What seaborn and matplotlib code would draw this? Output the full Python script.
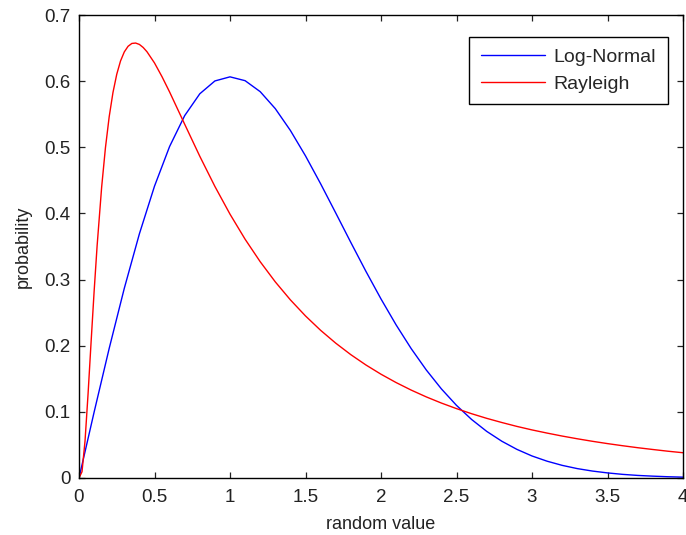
import numpy as np
import pandas as pd
import matplotlib
matplotlib.use("Agg")
import matplotlib.pyplot as plt
import seaborn as sns

# Sampled curve values
x_blue = [0.0, 0.1, 0.2, 0.3, 0.4, 0.5, 0.6, 0.7, 0.8, 0.9, 1.0,
          1.1, 1.2, 1.3, 1.4, 1.5, 1.6, 1.7, 1.8, 1.9, 2.0,
          2.1, 2.2, 2.3, 2.4, 2.5, 2.6, 2.7, 2.8, 2.9, 3.0,
          3.1, 3.2, 3.3, 3.4, 3.5, 3.6, 3.7, 3.8, 3.9, 4.0]
y_lognormal = [0.0, 0.0995, 0.1960, 0.2868, 0.3692, 0.4412, 0.5012, 0.5479, 0.5809, 0.6003, 0.6065,
               0.6007, 0.5841, 0.5584, 0.5254, 0.4870, 0.4449, 0.4008, 0.3562, 0.3125, 0.2707,
               0.2315, 0.1956, 0.1633, 0.1347, 0.1098, 0.0885, 0.0705, 0.0556, 0.0433, 0.0333,
               0.0254, 0.0191, 0.0142, 0.0105, 0.0077, 0.0055, 0.0039, 0.0028, 0.0019, 0.0013]

x_red = [0.0, 0.02, 0.04, 0.06, 0.08, 0.1, 0.12, 0.15, 0.175, 0.2, 0.225, 0.25, 0.275,
         0.3, 0.325, 0.35, 0.375, 0.4, 0.425, 0.45, 0.5, 0.55,
         0.6, 0.7, 0.8, 0.9, 1.0, 1.1, 1.2, 1.3, 1.4, 1.5, 1.6, 1.7, 1.8, 1.9, 2.0,
         2.1, 2.2, 2.3, 2.4, 2.5, 2.6, 2.7, 2.8, 2.9, 3.0,
         3.1, 3.2, 3.3, 3.4, 3.5, 3.6, 3.7, 3.8, 3.9, 4.0]
y_rayleigh = [0.0, 0.0095, 0.0562, 0.1271, 0.2053, 0.2816, 0.3512, 0.4398, 0.4991, 0.5463,
              0.5829, 0.6104, 0.6305,
              0.6442, 0.6527, 0.6570, 0.6576, 0.6555, 0.6509, 0.6445, 0.6275, 0.6066,
              0.5836, 0.5348, 0.4864, 0.4408, 0.3989, 0.3610, 0.3270, 0.2965, 0.2693, 0.2450,
              0.2233, 0.2039, 0.1865, 0.1709, 0.1569,
              0.1443, 0.1329, 0.1226, 0.1133, 0.1049, 0.0972, 0.0902, 0.0839, 0.0780, 0.0727,
              0.0679, 0.0634, 0.0593, 0.0555, 0.0520, 0.0488, 0.0458, 0.0431, 0.0405, 0.0382]

series_names = ["Log-Normal", "Rayleigh"]
x_ticks = [0, 0.5, 1, 1.5, 2, 2.5, 3, 3.5, 4]
x_tick_labels = ["0", "0.5", "1", "1.5", "2", "2.5", "3", "3.5", "4"]
y_ticks = [0, 0.1, 0.2, 0.3, 0.4, 0.5, 0.6, 0.7]
y_tick_labels = ["0", "0.1", "0.2", "0.3", "0.4", "0.5", "0.6", "0.7"]

df = pd.concat([
    pd.DataFrame({"x": x_blue, "y": y_lognormal, "dist": series_names[0]}),
    pd.DataFrame({"x": x_red, "y": y_rayleigh, "dist": series_names[1]}),
], ignore_index=True)

sns.set_style("ticks")
plt.rcParams["font.family"] = ["Liberation Sans", "DejaVu Sans"]
plt.rcParams["xtick.direction"] = "in"
plt.rcParams["ytick.direction"] = "in"

fig = plt.figure(figsize=(6.86, 5.35), dpi=100)
ax = fig.add_axes([79 / 686, 1 - 478 / 535, (683 - 79) / 686, (478 - 15) / 535])

sns.lineplot(data=df, x="x", y="y", hue="dist", hue_order=series_names,
             palette=["#0000ff", "#ff0000"], linewidth=1.0, ax=ax, sort=False,
             estimator=None)

ax.set_xlim(0, 4)
ax.set_ylim(0, 0.7)
ax.set_xticks(x_ticks)
ax.set_xticklabels(x_tick_labels)
ax.set_yticks(y_ticks)
ax.set_yticklabels(y_tick_labels)
ax.tick_params(axis="both", which="both", direction="in", length=4, width=0.9,
               top=True, right=True, labelsize=13.5, colors="#222222")
ax.tick_params(axis="x", pad=8)
ax.tick_params(axis="y", pad=6)
for s in ax.spines.values():
    s.set_visible(True)
    s.set_color("black")
    s.set_linewidth(1.0)

ax.set_xlabel("random value", fontsize=13, labelpad=7, color="#222222")
ax.set_ylabel("probability", fontsize=13, labelpad=9, color="#222222")

leg = ax.legend(loc="upper right", bbox_to_anchor=(668 / 686, 1 - 37 / 535),
                bbox_transform=fig.transFigure, fontsize=14, frameon=True,
                fancybox=False, framealpha=1, edgecolor="black",
                handlelength=3.3, borderpad=0.6, labelspacing=0.45,
                handletextpad=0.45, borderaxespad=0)
leg.get_frame().set_linewidth(1.0)
leg.set_title(None)

fig.savefig("out.png", dpi=100)
